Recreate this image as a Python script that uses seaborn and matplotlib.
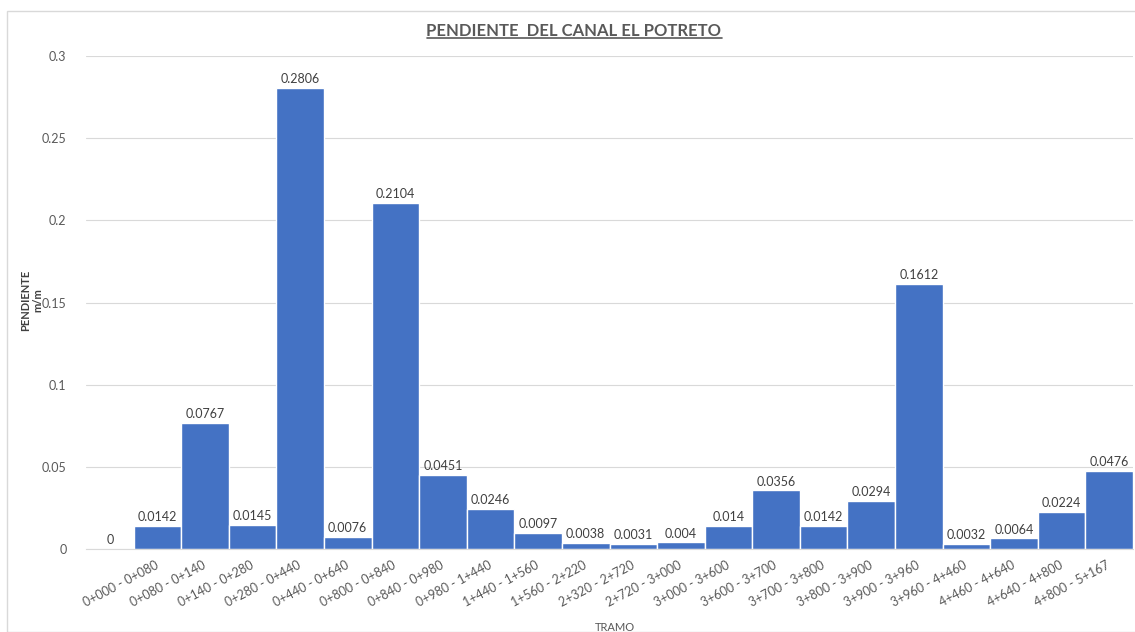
import matplotlib
matplotlib.use("Agg")
import matplotlib.pyplot as plt
import seaborn as sns
import pandas as pd
from matplotlib.ticker import FuncFormatter
from matplotlib.patches import Rectangle
from matplotlib.lines import Line2D

# ----------------------------------------------------------------------------
# data
# ----------------------------------------------------------------------------
tramos = ["", "0+000 - 0+080", "0+080 - 0+140", "0+140 - 0+280", "0+280 - 0+440",
          "0+440 - 0+640", "0+800 - 0+840", "0+840 - 0+980", "0+980 - 1+440",
          "1+440 - 1+560", "1+560 - 2+220", "2+320 - 2+720", "2+720 - 3+000",
          "3+000 - 3+600", "3+600 - 3+700", "3+700 - 3+800", "3+800 - 3+900",
          "3+900 - 3+960", "3+960 - 4+460", "4+460 - 4+640", "4+640 - 4+800",
          "4+800 - 5+167"]
pendiente = [0, 0.0142, 0.0767, 0.0145, 0.2806, 0.0076, 0.2104, 0.0451, 0.0246,
             0.0097, 0.0038, 0.0031, 0.004, 0.014, 0.0356, 0.0142, 0.0294,
             0.1612, 0.0032, 0.0064, 0.0224, 0.0476]
y_ticks = [0, 0.05, 0.1, 0.15, 0.2, 0.25, 0.3]

df = pd.DataFrame({"tramo": tramos, "pendiente": pendiente})

sns.set_style("white")
plt.rcParams['font.family'] = ['Lato', 'DejaVu Sans']
text_col = "#595959"
bar_col = "#4472C4"

fig = plt.figure(figsize=(11.35, 6.32), dpi=100)
ax = fig.add_axes([86 / 1135, 1 - 549 / 632, (1133 - 86) / 1135, (549 - 56) / 632])

sns.barplot(data=df, x="tramo", y="pendiente", color=bar_col, saturation=1,
            width=1.0, edgecolor="white", linewidth=1, ax=ax)

ax.set_xlim(-0.5, len(tramos) - 0.5)
ax.set_ylim(0, 0.3)
ax.set_yticks(y_ticks)
ax.yaxis.set_major_formatter(FuncFormatter(lambda v, p: f"{v:g}"))
ax.grid(axis="y", color="#D9D9D9", linewidth=0.8)
ax.set_axisbelow(True)
for s in ["top", "right", "left"]:
    ax.spines[s].set_visible(False)
ax.spines["bottom"].set_color("#D9D9D9")
ax.tick_params(axis="both", length=0, colors=text_col, labelsize=9)
ax.tick_params(axis="y", pad=14)

plt.setp(ax.get_xticklabels(), rotation=28, ha="right", va="center",
         rotation_mode="anchor", color=text_col, fontsize=9)
ax.tick_params(axis="x", pad=11)

ax.bar_label(ax.containers[0], labels=[f"{v:g}" for v in pendiente],
             padding=2, fontsize=9, color="#404040")

ax.set_xlabel("TRAMO", fontsize=8, color=text_col)
ax.xaxis.set_label_coords(0.505, -0.148)
ax.set_ylabel("PENDIENTE\nm/m", fontsize=8, color="#404040",
              fontweight="bold", linespacing=1.2, va="center",
              multialignment="center")
ax.yaxis.set_label_coords(-0.052, 0.505)

# title with underline
title = fig.text(574 / 1135, 1 - 31 / 632, "PENDIENTE  DEL CANAL EL POTRETO",
                 ha="center", va="center", fontsize=12, fontweight="bold",
                 color=text_col)
fig.canvas.draw()
bb = title.get_window_extent().transformed(fig.transFigure.inverted())
fig.add_artist(Line2D([bb.x0, bb.x1], [bb.y0 + 0.002, bb.y0 + 0.002],
                      color=text_col, linewidth=1.2, transform=fig.transFigure))

# chart area border
fig.add_artist(Rectangle((7 / 1135, 0.0), 1.2, 1 - 11 / 632,
                         transform=fig.transFigure, fill=False,
                         edgecolor="#D9D9D9", linewidth=1))

fig.savefig("out.png", dpi=100)
